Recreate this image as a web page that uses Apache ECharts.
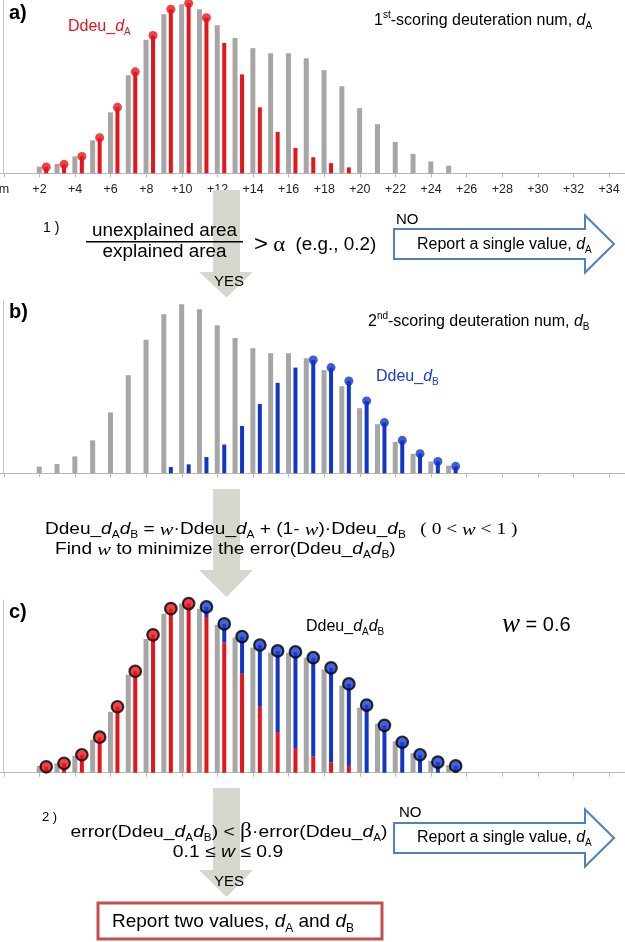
<!DOCTYPE html>
<html><head><meta charset="utf-8">
<script src="https://cdn.jsdelivr.net/npm/echarts@6/dist/echarts.min.js"></script>
<style>html,body{margin:0;padding:0;background:#fff}#c{width:625px;height:942px}</style>
</head><body><div id="c"></div>
<script>
// ---- data (relative intensity, tallest gray peak = 100) ----
const categories = ['m','+1','+2','+3','+4','+5','+6','+7','+8','+9','+10','+11','+12','+13','+14','+15','+16','+17',
  '+18','+19','+20','+21','+22','+23','+24','+25','+26','+27','+28','+29','+30','+31','+32','+33','+34','+35'];
// observed isotope distribution (gray), starts at +2
const observedStart = 2;
const observed = [4, 5.5, 10, 19.5, 36, 58, 79, 94, 100, 97, 87.5, 80, 74, 71, 71, 68, 61, 51.5, 38.5, 29, 18.5, 11.5, 7, 4.5];
// a) Ddeu_dA, starts at +2
const ddeuAStart = 2;
const ddeuA = [3.7, 5.3, 10, 21, 39, 60, 81.5, 97, 100.5, 92, 77, 58.5, 39, 24.5, 15, 9.5, 6, 3.5];
const ddeuAMarkedLast = 11;          // lollipop heads drawn up to +11
// b) Ddeu_dB, starts at +9
const ddeuBStart = 9;
const ddeuB = [3.7, 5.3, 9.6, 17, 28, 41, 53.5, 62.5, 67, 62.5, 54.6, 42.8, 30, 19.5, 11.6, 7, 4.1];
const ddeuBMarkedFirst = 17;         // lollipop heads drawn from +17
// c) Ddeu_dAdB : dA part (red) and combined top (circles)
const mixRedStart = 2;
const mixRed = [3.5, 5.5, 10.6, 21, 39, 60, 81.5, 97, 100, 92, 77, 58.5, 39, 24, 14.6, 9.5, 6, 4];
const mixTotalStart = 2;
const mixTotal = [3.5, 5.5, 10.6, 21, 39, 60, 81.5, 97, 100, 98, 88, 80.5, 75.5, 72, 71.4, 68, 62, 52.5, 40, 28, 18, 10.6, 6.3, 4];
const mixBlueHeadFirst = 11;         // circles from +11 on are blue

// ---- helpers ----
function place(start, vals) {
  const out = categories.map(() => null);
  vals.forEach((v, i) => { out[start + i] = v; });
  return out;
}
const obsFull = place(observedStart, observed);
const aFull = place(ddeuAStart, ddeuA);
const bFull = place(ddeuBStart, ddeuB);
const cRedFull = place(mixRedStart, mixRed);
const cTotFull = place(mixTotalStart, mixTotal);
const cBlueSeg = cTotFull.map((t, k) => {
  if (t == null) return null;
  const d = t - (cRedFull[k] || 0);
  return d > 0.05 ? +d.toFixed(2) : null;
});
const aHeads = aFull.map((v, k) => (k <= ddeuAMarkedLast ? v : null));
const bHeads = bFull.map((v, k) => (k >= ddeuBMarkedFirst ? v : null));
const cHeadsRed = cTotFull.map((v, k) => (k < mixBlueHeadFirst ? v : null));
const cHeadsBlue = cTotFull.map((v, k) => (k >= mixBlueHeadFirst ? v : null));

const RED = '#e8141c', BLUE = '#1234c8', GRAY = '#a6a6a6', AX = '#b8b8b8';
const SANS = '"Liberation Sans", Arial, Helvetica, sans-serif';
const SERIF = '"Liberation Serif", "Times New Roman", serif';

const gridTops = [0.8, 300.8, 600.2];
const grid = gridTops.map(t => ({left: -5, top: t, width: 640.8, height: 172.5, containLabel: false, outerBoundsMode: 'none'}));
const xAxis = gridTops.map((t, i) => ({
  type: 'category', gridIndex: i, data: categories, boundaryGap: true,
  axisLine: {show: true, lineStyle: {color: AX, width: 1}},
  axisTick: {show: true, alignWithLabel: true, interval: 1, length: 4, lineStyle: {color: AX}},
  axisLabel: {show: i === 0, interval: 1, margin: 10, fontSize: 12.5, color: '#222', fontFamily: SANS, hideOverlap: false},
  splitLine: {show: false}
}));
const yAxis = gridTops.map((t, i) => ({
  type: 'value', gridIndex: i, min: 0, max: 102, offset: -8.3,
  axisLine: {show: true, lineStyle: {color: '#c4c4c4', width: 1}},
  axisTick: {show: false}, axisLabel: {show: false}, splitLine: {show: false}
}));

const HEAD_OFF = [6.75, 0];
function spacer(i) { return {type: 'bar', name: 'sp' + i, xAxisIndex: i, yAxisIndex: i, data: [], barWidth: 4, barGap: '50%', silent: true}; }
function grayBars(i) { return {type: 'bar', xAxisIndex: i, yAxisIndex: i, data: obsFull, barWidth: 5, barGap: '50%', itemStyle: {color: GRAY}, silent: true}; }

const series = [
  spacer(0), grayBars(0),
  {type: 'bar', xAxisIndex: 0, yAxisIndex: 0, data: aFull, barWidth: 4, barGap: '50%', itemStyle: {color: RED}, silent: true},
  {type: 'scatter', xAxisIndex: 0, yAxisIndex: 0, data: aHeads, symbol: 'circle', symbolSize: 9, symbolOffset: HEAD_OFF, itemStyle: {color: RED}, z: 4, silent: true},

  spacer(1), grayBars(1),
  {type: 'bar', xAxisIndex: 1, yAxisIndex: 1, data: bFull, barWidth: 4, barGap: '50%', itemStyle: {color: BLUE}, silent: true},
  {type: 'scatter', xAxisIndex: 1, yAxisIndex: 1, data: bHeads, symbol: 'circle', symbolSize: 9, symbolOffset: HEAD_OFF, itemStyle: {color: BLUE}, z: 4, silent: true},

  spacer(2), grayBars(2),
  {type: 'bar', xAxisIndex: 2, yAxisIndex: 2, data: cRedFull, stack: 'mix', barWidth: 4, barGap: '50%', itemStyle: {color: RED}, silent: true},
  {type: 'bar', xAxisIndex: 2, yAxisIndex: 2, data: cBlueSeg, stack: 'mix', barWidth: 4, barGap: '50%', itemStyle: {color: BLUE}, silent: true},
  {type: 'scatter', xAxisIndex: 2, yAxisIndex: 2, data: cHeadsRed, symbol: 'circle', symbolSize: 11.5, symbolOffset: HEAD_OFF, itemStyle: {color: RED, borderColor: '#000', borderWidth: 2.2}, z: 4, silent: true},
  {type: 'scatter', xAxisIndex: 2, yAxisIndex: 2, data: cHeadsBlue, symbol: 'circle', symbolSize: 11.5, symbolOffset: HEAD_OFF, itemStyle: {color: '#1a3cd0', borderColor: '#000', borderWidth: 2.2}, z: 4, silent: true}
];

// ---- annotation text / flow-chart shapes ----
function richSet(s, color, extra) {
  const lh = Math.round(s * 1.3);
  const ss = Math.round(s * 0.63);
  const r = {
    n: {fontFamily: SANS, fontSize: s, lineHeight: lh, fill: color},
    bo: {fontFamily: SANS, fontSize: s, fontWeight: 'bold', lineHeight: lh, fill: color},
    i: {fontFamily: SANS, fontSize: s, fontStyle: 'italic', lineHeight: lh, fill: color},
    w: {fontFamily: SERIF, fontSize: s * 1.08, fontStyle: 'italic', lineHeight: lh, fill: color},
    t: {fontFamily: SERIF, fontSize: s * 1.02, lineHeight: lh, fill: color},
    sub: {fontFamily: SANS, fontSize: ss, lineHeight: ss, verticalAlign: 'bottom', fill: color},
    sup: {fontFamily: SANS, fontSize: ss, lineHeight: ss, verticalAlign: 'top', fill: color}
  };
  return Object.assign(r, extra || {});
}
function T(x, y, text, s, opt) {
  opt = opt || {};
  const color = opt.color || '#000';
  const al = opt.align || 'left';
  return {type: 'text', x: x, y: y, z: 20, silent: true, scaleX: opt.sx || 1, style: {
    text: text, rich: richSet(s, color, opt.rich), fontFamily: SANS, fontSize: s, fill: color,
    align: al, verticalAlign: 'middle', textAlign: al, textVerticalAlign: 'middle'
  }};
}
function downArrow(top, headTop, tip) {
  return {type: 'polygon', z: 5, silent: true, shape: {points: [
    [213, top], [240, top], [240, headTop], [253, headTop], [226.5, tip], [199, headTop], [213, headTop]
  ]}, style: {fill: '#d7d7cd', stroke: null}};
}
function rightArrow(cy) {
  return {type: 'polygon', z: 6, silent: true, shape: {points: [
    [394, cy - 15], [585, cy - 15], [585, cy - 28.5], [614, cy], [585, cy + 28.5], [585, cy + 15], [394, cy + 15]
  ]}, style: {fill: '#fff', stroke: '#4f81bd', lineWidth: 2}};
}

const graphic = [
  downArrow(190, 272, 297.5),
  downArrow(489, 570, 597),
  downArrow(788, 870, 897),
  rightArrow(244),
  rightArrow(838),
  {type: 'rect', z: 6, silent: true, shape: {x: 98, y: 903, width: 284, height: 36}, style: {fill: '#fff', stroke: '#c0504d', lineWidth: 3}},
  {type: 'line', z: 20, silent: true, shape: {x1: 86, y1: 241.7, x2: 243, y2: 241.7}, style: {stroke: '#000', lineWidth: 1.5}},

  T(9, 13, '{bo|a)}', 20),
  T(68, 27, '{n|Ddeu_}{i|d}{sub|A}', 16, {color: RED}),
  T(374, 21, '{n|1}{sup|st}{n|-scoring deuteration num, }{i|d}{sub|A}', 16),

  T(43, 228, '{n|1 )}', 14),
  T(164.5, 231, '{n|unexplained area}', 17.5, {align: 'center', sx: 1.08}),
  T(164.5, 252.5, '{n|explained area}', 17.5, {align: 'center', sx: 1.08}),
  T(254, 245, '{g|>} {a|α}  {n|(e.g., 0.2)}', 17.5, {sx: 1.08, rich: {
    g: {fontFamily: SANS, fontSize: 22, lineHeight: 25, fill: '#000'},
    a: {fontFamily: SERIF, fontSize: 21, lineHeight: 25, fill: '#000'}}}),
  T(396, 220, '{n|NO}', 15),
  T(417, 245, '{n|Report a single value, }{i|d}{sub|A}', 16),
  T(229, 282, '{n|YES}', 15, {align: 'center'}),

  T(9, 312, '{bo|b)}', 20),
  T(368, 322, '{n|2}{sup|nd}{n|-scoring deuteration num, }{i|d}{sub|B}', 16),
  T(376, 377, '{n|Ddeu_}{i|d}{sub|B}', 16, {color: '#1a3ad0'}),

  T(45, 530, '{n|Ddeu_}{i|d}{sub|A}{i|d}{sub|B}{n| = }{w|w}{n|·Ddeu_}{i|d}{sub|A}{n| + (1- }{w|w}{n|)·Ddeu_}{i|d}{sub|B}{t|   ( 0 < }{w|w}{t| < 1 )}', 16, {sx: 1.19}),
  T(55, 550, '{n|Find }{w|w}{n| to minimize the error(Ddeu_}{i|d}{sub|A}{i|d}{sub|B}{n|)}', 16, {sx: 1.19}),

  T(9, 612, '{bo|c)}', 20),
  T(306, 627, '{n|Ddeu_}{i|d}{sub|A}{i|d}{sub|B}', 16),
  T(502, 625, '{W|w}{n| = 0.6}', 20, {rich: {W: {fontFamily: SERIF, fontSize: 27, fontStyle: 'italic', lineHeight: 28, fill: '#000'}}}),

  T(42, 817, '{n|2 )}', 13),
  T(229, 832, '{n|error(Ddeu_}{i|d}{sub|A}{i|d}{sub|B}{n|) < }{b|β}{n|·error(Ddeu_}{i|d}{sub|A}{n|)}', 16.5, {align: 'center', sx: 1.17, rich: {
    b: {fontFamily: SERIF, fontSize: 20, lineHeight: 22, fill: '#000'}}}),
  T(228, 852, '{n|0.1 ≤ }{i|w}{n| ≤ 0.9}', 16.5, {align: 'center', sx: 1.17}),
  T(399, 813, '{n|NO}', 15),
  T(417, 838, '{n|Report a single value, }{i|d}{sub|A}', 16),
  T(229, 882, '{n|YES}', 15, {align: 'center'}),
  T(112, 922, '{n|Report two values, }{i|d}{sub|A}{n| and }{i|d}{sub|B}', 19)
];

const chart = echarts.init(document.getElementById('c'), null, {renderer: 'canvas'});
chart.setOption({
  animation: false,
  backgroundColor: '#fff',
  grid: grid, xAxis: xAxis, yAxis: yAxis, series: series, graphic: graphic
});
</script></body></html>
